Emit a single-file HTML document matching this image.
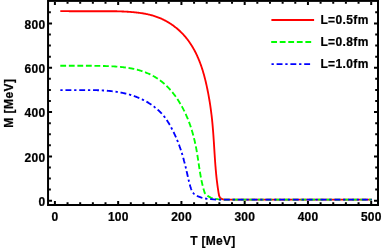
<!DOCTYPE html>
<html><head><meta charset="utf-8"><title>plot</title>
<style>html,body{margin:0;padding:0;background:#fff;}svg{display:block;will-change:transform;}text{font-family:"Liberation Sans",sans-serif;font-weight:bold;font-size:12px;fill:#000;stroke:#000;stroke-width:0.22px;}</style></head><body>
<svg width="383" height="249" viewBox="0 0 383 249">
<rect width="383" height="249" fill="#fff"/>
<path d="M60.29,11.10 L61.04,11.10 L61.79,11.10 L62.54,11.11 L63.29,11.13 L64.04,11.14 L64.78,11.15 L65.53,11.16 L66.28,11.18 L67.02,11.18 L67.77,11.19 L68.52,11.20 L69.26,11.21 L70.01,11.21 L70.75,11.22 L71.50,11.22 L72.24,11.22 L72.99,11.23 L73.73,11.23 L74.48,11.23 L75.22,11.23 L75.97,11.23 L76.71,11.23 L77.45,11.23 L78.20,11.23 L78.94,11.23 L79.68,11.23 L80.43,11.23 L81.17,11.23 L81.91,11.23 L82.65,11.23 L83.40,11.23 L84.14,11.23 L84.88,11.23 L85.62,11.23 L86.37,11.23 L87.11,11.23 L87.85,11.23 L88.59,11.23 L89.33,11.23 L90.08,11.23 L90.82,11.23 L91.56,11.23 L92.30,11.23 L93.04,11.23 L93.79,11.23 L94.53,11.23 L95.27,11.23 L96.01,11.23 L96.75,11.23 L97.49,11.23 L98.24,11.23 L98.98,11.23 L99.72,11.23 L100.46,11.23 L101.20,11.23 L101.95,11.23 L102.69,11.23 L103.43,11.23 L104.17,11.23 L104.92,11.23 L105.66,11.23 L106.40,11.23 L107.14,11.23 L107.89,11.23 L108.63,11.23 L109.37,11.23 L110.12,11.23 L110.86,11.23 L111.60,11.23 L112.35,11.23 L113.09,11.23 L113.83,11.23 L114.58,11.23 L115.32,11.24 L116.07,11.26 L116.81,11.28 L117.56,11.30 L118.30,11.32 L119.05,11.35 L119.79,11.38 L120.54,11.40 L121.29,11.43 L122.03,11.46 L122.78,11.50 L123.53,11.53 L124.27,11.57 L125.02,11.61 L125.77,11.65 L126.52,11.69 L127.26,11.73 L128.01,11.78 L128.76,11.83 L129.51,11.88 L130.26,11.93 L131.01,11.99 L131.75,12.05 L132.50,12.11 L133.25,12.18 L133.99,12.24 L134.74,12.32 L135.48,12.39 L136.23,12.47 L136.97,12.56 L137.72,12.64 L138.46,12.74 L139.20,12.83 L139.94,12.93 L140.68,13.04 L141.42,13.15 L142.15,13.26 L142.89,13.38 L143.62,13.51 L144.36,13.64 L145.09,13.77 L145.82,13.91 L146.54,14.06 L147.27,14.21 L147.99,14.37 L148.72,14.54 L149.44,14.71 L150.16,14.88 L150.87,15.07 L151.59,15.26 L152.30,15.46 L153.01,15.66 L153.71,15.87 L154.42,16.09 L155.12,16.32 L155.82,16.55 L156.52,16.79 L157.21,17.04 L157.91,17.30 L158.60,17.56 L159.28,17.83 L159.96,18.11 L160.64,18.40 L161.32,18.70 L162.00,19.01 L162.67,19.32 L163.33,19.64 L164.00,19.97 L164.66,20.31 L165.31,20.65 L165.97,21.00 L166.62,21.36 L167.26,21.73 L167.90,22.10 L168.54,22.49 L169.17,22.87 L169.80,23.27 L170.43,23.67 L171.05,24.08 L171.67,24.50 L172.28,24.92 L172.89,25.35 L173.49,25.79 L174.09,26.24 L174.68,26.69 L175.27,27.14 L175.85,27.61 L176.43,28.08 L177.01,28.55 L177.58,29.04 L178.14,29.52 L178.70,30.02 L179.25,30.52 L179.80,31.03 L180.34,31.54 L180.88,32.06 L181.41,32.58 L181.94,33.11 L182.46,33.65 L182.97,34.19 L183.48,34.73 L183.98,35.28 L184.48,35.84 L184.97,36.40 L185.45,36.97 L185.93,37.54 L186.40,38.12 L186.86,38.70 L187.32,39.28 L187.77,39.88 L188.22,40.47 L188.66,41.07 L189.09,41.68 L189.52,42.29 L189.94,42.90 L190.36,43.52 L190.77,44.14 L191.17,44.76 L191.57,45.39 L191.96,46.02 L192.35,46.66 L192.73,47.30 L193.10,47.94 L193.47,48.59 L193.84,49.24 L194.20,49.90 L194.55,50.55 L194.90,51.21 L195.24,51.87 L195.58,52.54 L195.91,53.21 L196.24,53.88 L196.56,54.55 L196.88,55.23 L197.19,55.90 L197.50,56.58 L197.80,57.27 L198.10,57.95 L198.39,58.64 L198.68,59.33 L198.97,60.02 L199.24,60.71 L199.52,61.40 L199.79,62.10 L200.05,62.79 L200.32,63.49 L200.57,64.19 L200.82,64.89 L201.07,65.59 L201.32,66.29 L201.56,67.00 L201.79,67.70 L202.02,68.41 L202.25,69.12 L202.48,69.83 L202.70,70.54 L202.92,71.25 L203.13,71.96 L203.34,72.67 L203.55,73.39 L203.75,74.10 L203.95,74.82 L204.15,75.53 L204.34,76.25 L204.53,76.97 L204.72,77.69 L204.91,78.41 L205.09,79.13 L205.27,79.85 L205.44,80.57 L205.62,81.29 L205.79,82.02 L205.96,82.74 L206.13,83.47 L206.29,84.19 L206.45,84.92 L206.61,85.64 L206.77,86.37 L206.93,87.10 L207.08,87.83 L207.24,88.55 L207.39,89.28 L207.54,90.01 L207.68,90.74 L207.83,91.47 L207.97,92.20 L208.11,92.93 L208.25,93.66 L208.39,94.39 L208.53,95.12 L208.66,95.86 L208.79,96.59 L208.92,97.32 L209.05,98.05 L209.18,98.79 L209.30,99.52 L209.43,100.26 L209.55,100.99 L209.67,101.72 L209.79,102.46 L209.90,103.20 L210.02,103.93 L210.13,104.67 L210.24,105.40 L210.35,106.14 L210.46,106.88 L210.56,107.61 L210.67,108.35 L210.77,109.09 L210.87,109.82 L210.97,110.56 L211.07,111.30 L211.16,112.04 L211.26,112.78 L211.35,113.52 L211.44,114.26 L211.53,114.99 L211.62,115.73 L211.70,116.47 L211.78,117.21 L211.87,117.95 L211.95,118.69 L212.03,119.43 L212.10,120.17 L212.18,120.91 L212.25,121.65 L212.33,122.40 L212.40,123.14 L212.47,123.88 L212.54,124.62 L212.61,125.36 L212.67,126.10 L212.74,126.84 L212.80,127.58 L212.86,128.33 L212.92,129.07 L212.98,129.81 L213.04,130.55 L213.10,131.29 L213.16,132.04 L213.21,132.78 L213.27,133.52 L213.32,134.26 L213.38,135.01 L213.43,135.75 L213.48,136.49 L213.53,137.23 L213.58,137.98 L213.63,138.72 L213.68,139.46 L213.73,140.21 L213.78,140.95 L213.83,141.69 L213.88,142.43 L213.93,143.18 L213.97,143.92 L214.02,144.66 L214.07,145.41 L214.11,146.15 L214.16,146.89 L214.21,147.63 L214.25,148.38 L214.30,149.12 L214.35,149.86 L214.39,150.61 L214.44,151.35 L214.49,152.09 L214.53,152.84 L214.58,153.58 L214.63,154.32 L214.68,155.06 L214.73,155.81 L214.77,156.55 L214.82,157.29 L214.87,158.03 L214.92,158.78 L214.98,159.52 L215.03,160.26 L215.08,161.00 L215.13,161.75 L215.19,162.49 L215.24,163.23 L215.30,163.97 L215.35,164.71 L215.41,165.45 L215.47,166.20 L215.53,166.94 L215.59,167.68 L215.65,168.42 L215.71,169.16 L215.78,169.90 L215.84,170.64 L215.91,171.38 L215.98,172.12 L216.05,172.86 L216.12,173.60 L216.19,174.34 L216.26,175.08 L216.34,175.82 L216.41,176.56 L216.49,177.30 L216.57,178.04 L216.65,178.78 L216.74,179.52 L216.82,180.26 L216.91,181.00 L217.00,181.73 L217.09,182.47 L217.18,183.21 L217.28,183.95 L217.37,184.69 L217.47,185.42 L217.57,186.16 L217.68,186.90 L217.78,187.63 L217.89,188.37 L218.00,189.10 L218.11,189.84 L218.23,190.58 L218.34,191.31 L218.46,192.05 L218.58,192.78 L218.71,193.52 L218.84,194.25 L218.97,194.98 L219.10,195.72 L220.10,197.80 L221.70,199.00 L224.00,199.60 L371.70,199.60" fill="none" stroke="#ff0000" stroke-width="1.85"/>
<path d="M60.30,65.75 L60.87,65.75 L61.44,65.75 L62.01,65.75 L62.58,65.75 L63.15,65.75 L63.71,65.75 L64.28,65.75 L64.85,65.75 L65.42,65.75 L65.99,65.75 L66.56,65.75 L67.13,65.75 L67.70,65.75 L68.26,65.75 L68.83,65.75 L69.40,65.75 L69.97,65.75 L70.54,65.75 L71.11,65.75 L71.68,65.75 L72.24,65.75 L72.81,65.75 L73.38,65.75 L73.95,65.75 L74.52,65.75 L75.08,65.75 L75.65,65.75 L76.22,65.75 L76.79,65.75 L77.36,65.75 L77.92,65.75 L78.49,65.75 L79.06,65.75 L79.63,65.75 L80.20,65.75 L80.76,65.75 L81.33,65.75 L81.90,65.75 L82.47,65.75 L83.04,65.75 L83.60,65.75 L84.17,65.75 L84.74,65.75 L85.31,65.75 L85.87,65.75 L86.44,65.75 L87.01,65.75 L87.58,65.75 L88.15,65.75 L88.71,65.75 L89.28,65.75 L89.85,65.75 L90.42,65.75 L90.98,65.76 L91.55,65.76 L92.12,65.77 L92.69,65.78 L93.26,65.78 L93.82,65.79 L94.39,65.80 L94.96,65.81 L95.53,65.81 L96.09,65.82 L96.66,65.83 L97.23,65.84 L97.80,65.85 L98.37,65.86 L98.93,65.87 L99.50,65.88 L100.07,65.90 L100.64,65.91 L101.21,65.92 L101.78,65.93 L102.34,65.95 L102.91,65.96 L103.48,65.98 L104.05,65.99 L104.62,66.01 L105.18,66.03 L105.75,66.05 L106.32,66.06 L106.89,66.08 L107.46,66.11 L108.02,66.13 L108.59,66.15 L109.16,66.17 L109.73,66.20 L110.30,66.23 L110.86,66.25 L111.43,66.28 L112.00,66.31 L112.57,66.35 L113.14,66.38 L113.70,66.41 L114.27,66.45 L114.84,66.49 L115.41,66.52 L115.97,66.56 L116.54,66.61 L117.11,66.65 L117.67,66.70 L118.24,66.74 L118.81,66.79 L119.37,66.84 L119.94,66.90 L120.51,66.95 L121.07,67.01 L121.64,67.07 L122.21,67.13 L122.77,67.19 L123.34,67.25 L123.90,67.32 L124.47,67.39 L125.03,67.46 L125.60,67.53 L126.16,67.61 L126.73,67.69 L127.29,67.77 L127.86,67.85 L128.42,67.94 L128.98,68.03 L129.55,68.12 L130.11,68.22 L130.67,68.31 L131.23,68.42 L131.79,68.52 L132.35,68.63 L132.91,68.74 L133.47,68.85 L134.03,68.97 L134.58,69.09 L135.14,69.22 L135.69,69.35 L136.25,69.48 L136.80,69.62 L137.35,69.76 L137.90,69.91 L138.45,70.06 L139.00,70.21 L139.55,70.37 L140.09,70.53 L140.64,70.70 L141.18,70.87 L141.72,71.04 L142.26,71.22 L142.80,71.41 L143.33,71.59 L143.87,71.79 L144.40,71.98 L144.93,72.18 L145.46,72.39 L145.99,72.60 L146.51,72.81 L147.04,73.03 L147.56,73.25 L148.08,73.48 L148.60,73.71 L149.11,73.94 L149.63,74.18 L150.14,74.43 L150.65,74.67 L151.16,74.93 L151.66,75.18 L152.16,75.44 L152.66,75.71 L153.16,75.98 L153.66,76.25 L154.15,76.53 L154.64,76.81 L155.13,77.10 L155.61,77.39 L156.09,77.69 L156.57,77.99 L157.05,78.30 L157.52,78.61 L157.99,78.92 L158.46,79.24 L158.93,79.56 L159.39,79.89 L159.85,80.22 L160.30,80.56 L160.76,80.90 L161.20,81.24 L161.65,81.59 L162.09,81.94 L162.53,82.30 L162.97,82.66 L163.40,83.03 L163.83,83.40 L164.26,83.77 L164.69,84.15 L165.11,84.53 L165.52,84.91 L165.94,85.30 L166.35,85.70 L166.76,86.09 L167.16,86.49 L167.56,86.89 L167.96,87.30 L168.35,87.71 L168.75,88.12 L169.14,88.54 L169.52,88.95 L169.90,89.38 L170.28,89.80 L170.66,90.23 L171.03,90.66 L171.40,91.09 L171.77,91.53 L172.13,91.97 L172.49,92.41 L172.85,92.85 L173.21,93.30 L173.56,93.75 L173.91,94.20 L174.25,94.66 L174.60,95.11 L174.94,95.57 L175.27,96.03 L175.61,96.50 L175.94,96.96 L176.27,97.43 L176.59,97.90 L176.91,98.37 L177.23,98.84 L177.55,99.32 L177.86,99.79 L178.18,100.27 L178.48,100.75 L178.79,101.24 L179.09,101.72 L179.39,102.20 L179.69,102.69 L179.98,103.18 L180.27,103.67 L180.56,104.16 L180.85,104.65 L181.13,105.14 L181.41,105.64 L181.69,106.13 L181.96,106.63 L182.24,107.13 L182.51,107.63 L182.77,108.13 L183.04,108.63 L183.30,109.13 L183.56,109.64 L183.81,110.15 L184.07,110.65 L184.32,111.16 L184.57,111.67 L184.82,112.18 L185.06,112.69 L185.30,113.21 L185.54,113.72 L185.78,114.23 L186.01,114.75 L186.24,115.27 L186.47,115.79 L186.70,116.31 L186.92,116.83 L187.14,117.35 L187.36,117.87 L187.58,118.39 L187.79,118.92 L188.00,119.44 L188.21,119.97 L188.42,120.50 L188.63,121.03 L188.83,121.56 L189.03,122.09 L189.23,122.62 L189.42,123.15 L189.62,123.68 L189.81,124.22 L190.00,124.75 L190.19,125.29 L190.37,125.82 L190.55,126.36 L190.73,126.90 L190.91,127.44 L191.09,127.98 L191.26,128.52 L191.43,129.06 L191.60,129.60 L191.77,130.14 L191.94,130.69 L192.10,131.23 L192.26,131.77 L192.42,132.32 L192.58,132.87 L192.73,133.41 L192.89,133.96 L193.04,134.51 L193.19,135.06 L193.34,135.61 L193.48,136.16 L193.63,136.71 L193.77,137.26 L193.91,137.81 L194.04,138.36 L194.18,138.91 L194.31,139.47 L194.45,140.02 L194.58,140.57 L194.71,141.13 L194.83,141.68 L194.96,142.24 L195.08,142.79 L195.20,143.35 L195.32,143.91 L195.44,144.46 L195.56,145.02 L195.67,145.58 L195.78,146.14 L195.89,146.69 L196.00,147.25 L196.11,147.81 L196.22,148.37 L196.32,148.93 L196.43,149.49 L196.53,150.05 L196.63,150.61 L196.72,151.17 L196.82,151.73 L196.92,152.29 L197.01,152.86 L197.10,153.42 L197.20,153.98 L197.29,154.54 L197.38,155.10 L197.47,155.67 L197.56,156.23 L197.64,156.79 L197.73,157.35 L197.82,157.92 L197.90,158.48 L197.99,159.04 L198.07,159.60 L198.16,160.17 L198.24,160.73 L198.32,161.29 L198.41,161.85 L198.49,162.42 L198.57,162.98 L198.66,163.54 L198.74,164.11 L198.82,164.67 L198.91,165.23 L198.99,165.79 L199.07,166.36 L199.16,166.92 L199.24,167.48 L199.33,168.04 L199.42,168.60 L199.50,169.16 L199.59,169.73 L199.68,170.29 L199.77,170.85 L199.86,171.41 L199.95,171.97 L200.04,172.53 L200.13,173.09 L200.23,173.65 L200.32,174.21 L200.42,174.77 L200.52,175.32 L200.61,175.88 L200.71,176.44 L200.82,177.00 L200.92,177.56 L201.03,178.11 L201.13,178.67 L201.24,179.22 L201.35,179.78 L201.47,180.34 L201.58,180.89 L201.70,181.44 L201.82,182.00 L201.94,182.55 L202.06,183.10 L202.19,183.66 L202.31,184.21 L202.44,184.76 L202.58,185.31 L202.71,185.86 L202.85,186.41 L202.99,186.96 L203.13,187.51 L203.28,188.05 L203.43,188.60 L203.58,189.15 L203.74,189.69 L203.90,190.24 L204.06,190.78 L204.22,191.33 L204.39,191.87 L204.56,192.41 L204.73,192.95 L207.70,195.90 L211.00,197.80 L214.50,198.70 L218.00,199.20 L222.00,199.60 L371.70,199.60" fill="none" stroke="#00ff00" stroke-width="1.85" stroke-dasharray="5.82 2.72"/>
<path d="M60.35,90.11 L60.82,90.12 L61.30,90.12 L61.78,90.13 L62.26,90.14 L62.73,90.14 L63.21,90.15 L63.69,90.15 L64.17,90.16 L64.65,90.16 L65.14,90.16 L65.62,90.16 L66.10,90.17 L66.58,90.17 L67.07,90.17 L67.55,90.17 L68.03,90.17 L68.52,90.17 L69.00,90.17 L69.49,90.17 L69.97,90.17 L70.46,90.17 L70.95,90.17 L71.43,90.17 L71.92,90.17 L72.41,90.17 L72.89,90.17 L73.38,90.17 L73.87,90.17 L74.36,90.17 L74.85,90.17 L75.34,90.17 L75.83,90.17 L76.32,90.17 L76.81,90.17 L77.30,90.17 L77.79,90.17 L78.28,90.17 L78.77,90.17 L79.26,90.17 L79.75,90.17 L80.24,90.17 L80.74,90.17 L81.23,90.17 L81.72,90.17 L82.21,90.17 L82.70,90.17 L83.20,90.17 L83.69,90.17 L84.18,90.17 L84.68,90.17 L85.17,90.17 L85.66,90.17 L86.16,90.17 L86.65,90.17 L87.14,90.17 L87.64,90.17 L88.13,90.17 L88.62,90.17 L89.12,90.17 L89.61,90.17 L90.11,90.17 L90.60,90.17 L91.09,90.17 L91.59,90.17 L92.08,90.17 L92.57,90.17 L93.07,90.17 L93.56,90.17 L94.06,90.17 L94.55,90.17 L95.04,90.17 L95.54,90.17 L96.03,90.17 L96.52,90.18 L97.02,90.20 L97.51,90.21 L98.00,90.23 L98.50,90.25 L98.99,90.27 L99.48,90.29 L99.97,90.31 L100.47,90.33 L100.96,90.35 L101.45,90.38 L101.94,90.40 L102.43,90.43 L102.93,90.46 L103.42,90.49 L103.91,90.52 L104.40,90.55 L104.89,90.58 L105.38,90.62 L105.87,90.65 L106.36,90.69 L106.85,90.73 L107.34,90.77 L107.83,90.81 L108.32,90.85 L108.80,90.90 L109.29,90.95 L109.78,90.99 L110.27,91.04 L110.75,91.09 L111.24,91.15 L111.73,91.20 L112.21,91.26 L112.70,91.31 L113.18,91.37 L113.67,91.43 L114.15,91.50 L114.64,91.56 L115.12,91.63 L115.60,91.70 L116.09,91.77 L116.57,91.84 L117.05,91.91 L117.53,91.99 L118.01,92.07 L118.49,92.15 L118.97,92.23 L119.45,92.31 L119.93,92.40 L120.41,92.48 L120.89,92.57 L121.37,92.67 L121.84,92.76 L122.32,92.86 L122.79,92.96 L123.27,93.06 L123.74,93.16 L124.22,93.27 L124.69,93.37 L125.16,93.48 L125.64,93.60 L126.11,93.71 L126.58,93.83 L127.05,93.95 L127.52,94.07 L127.99,94.19 L128.46,94.32 L128.92,94.45 L129.39,94.58 L129.86,94.72 L130.32,94.85 L130.79,94.99 L131.25,95.14 L131.71,95.28 L132.18,95.43 L132.64,95.58 L133.10,95.73 L133.56,95.89 L134.02,96.05 L134.48,96.21 L134.94,96.37 L135.40,96.54 L135.85,96.71 L136.31,96.88 L136.76,97.06 L137.22,97.24 L137.67,97.42 L138.12,97.60 L138.57,97.79 L139.02,97.98 L139.47,98.17 L139.92,98.37 L140.37,98.57 L140.82,98.77 L141.26,98.98 L141.71,99.18 L142.15,99.40 L142.59,99.61 L143.03,99.83 L143.47,100.05 L143.91,100.27 L144.34,100.50 L144.78,100.72 L145.21,100.96 L145.64,101.19 L146.07,101.43 L146.50,101.67 L146.93,101.91 L147.35,102.16 L147.78,102.41 L148.20,102.66 L148.62,102.92 L149.04,103.18 L149.45,103.44 L149.87,103.70 L150.28,103.97 L150.69,104.24 L151.10,104.52 L151.50,104.79 L151.91,105.07 L152.31,105.36 L152.71,105.64 L153.10,105.93 L153.50,106.22 L153.89,106.52 L154.28,106.81 L154.67,107.11 L155.05,107.42 L155.44,107.72 L155.82,108.03 L156.20,108.35 L156.57,108.66 L156.94,108.98 L157.31,109.30 L157.68,109.62 L158.04,109.95 L158.40,110.28 L158.76,110.62 L159.12,110.95 L159.47,111.29 L159.82,111.63 L160.17,111.98 L160.51,112.33 L160.85,112.68 L161.19,113.03 L161.52,113.39 L161.85,113.75 L162.18,114.11 L162.51,114.48 L162.83,114.85 L163.15,115.22 L163.46,115.59 L163.77,115.97 L164.08,116.35 L164.38,116.74 L164.68,117.12 L164.98,117.51 L165.27,117.91 L165.56,118.30 L165.85,118.70 L166.13,119.10 L166.41,119.50 L166.69,119.91 L166.96,120.32 L167.23,120.73 L167.50,121.14 L167.76,121.56 L168.03,121.97 L168.29,122.39 L168.54,122.81 L168.80,123.23 L169.05,123.65 L169.30,124.08 L169.54,124.51 L169.79,124.93 L170.03,125.36 L170.27,125.79 L170.51,126.22 L170.75,126.65 L170.98,127.09 L171.21,127.52 L171.44,127.95 L171.67,128.39 L171.90,128.82 L172.12,129.26 L172.35,129.70 L172.57,130.13 L172.79,130.57 L173.01,131.01 L173.23,131.45 L173.44,131.88 L173.66,132.32 L173.87,132.76 L174.08,133.20 L174.29,133.64 L174.50,134.08 L174.71,134.52 L174.91,134.97 L175.11,135.41 L175.32,135.85 L175.52,136.29 L175.72,136.74 L175.91,137.18 L176.11,137.63 L176.30,138.07 L176.49,138.52 L176.69,138.97 L176.88,139.42 L177.06,139.86 L177.25,140.31 L177.43,140.76 L177.62,141.21 L177.80,141.66 L177.98,142.11 L178.16,142.57 L178.34,143.02 L178.51,143.47 L178.69,143.93 L178.86,144.38 L179.03,144.84 L179.20,145.29 L179.37,145.75 L179.53,146.21 L179.70,146.66 L179.86,147.12 L180.02,147.58 L180.18,148.04 L180.34,148.50 L180.50,148.97 L180.66,149.43 L180.81,149.89 L180.97,150.36 L181.12,150.82 L181.27,151.29 L181.42,151.75 L181.57,152.22 L181.71,152.69 L181.86,153.15 L182.00,153.62 L182.14,154.09 L182.29,154.56 L182.43,155.03 L182.57,155.50 L182.70,155.97 L182.84,156.44 L182.98,156.91 L183.11,157.38 L183.24,157.86 L183.38,158.33 L183.51,158.80 L183.64,159.27 L183.77,159.75 L183.90,160.22 L184.02,160.70 L184.15,161.17 L184.27,161.65 L184.40,162.12 L184.52,162.60 L184.64,163.07 L184.76,163.55 L184.89,164.02 L185.01,164.50 L185.12,164.98 L185.24,165.45 L185.36,165.93 L185.48,166.40 L185.59,166.88 L185.71,167.36 L185.82,167.83 L185.93,168.31 L186.05,168.79 L186.16,169.27 L186.27,169.74 L186.38,170.22 L186.49,170.70 L186.60,171.17 L186.71,171.65 L186.82,172.13 L186.93,172.60 L187.04,173.08 L187.15,173.56 L187.25,174.03 L187.36,174.51 L187.47,174.98 L187.58,175.46 L187.69,175.94 L187.80,176.41 L187.91,176.89 L188.02,177.36 L188.13,177.84 L188.25,178.32 L188.36,178.79 L188.47,179.27 L188.58,179.74 L188.70,180.22 L188.82,180.69 L188.93,181.17 L189.05,181.64 L189.17,182.11 L189.29,182.59 L189.41,183.06 L189.53,183.54 L189.66,184.01 L189.78,184.48 L189.91,184.95 L190.04,185.43 L190.17,185.90 L190.31,186.37 L190.44,186.84 L190.59,187.31 L190.74,187.77 L190.89,188.23 L191.06,188.69 L191.23,189.15 L191.41,189.60 L191.60,190.04 L191.80,190.48 L192.02,190.92 L192.24,191.34 L192.48,191.77 L192.73,192.18 L193.00,192.59 L193.29,192.99 L193.59,193.38 L193.91,193.76 L194.25,194.13 L198.10,196.50 L201.50,197.60 L204.50,198.40 L208.00,198.90 L211.00,199.20 L216.00,199.60 L371.70,199.60" fill="none" stroke="#0000ff" stroke-width="1.85" stroke-dasharray="2.3 2.8 5.9 2.8"/>
<rect x="48.05" y="0.9" width="329.95" height="204.1" fill="none" stroke="#000" stroke-width="2.0"/>
<path d="M54.90,204.0 v-3.0 M54.90,1.9 v3.0 M67.55,204.0 v-1.8 M67.55,1.9 v1.8 M80.20,204.0 v-1.8 M80.20,1.9 v1.8 M92.86,204.0 v-1.8 M92.86,1.9 v1.8 M105.51,204.0 v-1.8 M105.51,1.9 v1.8 M118.16,204.0 v-3.0 M118.16,1.9 v3.0 M130.81,204.0 v-1.8 M130.81,1.9 v1.8 M143.46,204.0 v-1.8 M143.46,1.9 v1.8 M156.12,204.0 v-1.8 M156.12,1.9 v1.8 M168.77,204.0 v-1.8 M168.77,1.9 v1.8 M181.42,204.0 v-3.0 M181.42,1.9 v3.0 M194.07,204.0 v-1.8 M194.07,1.9 v1.8 M206.72,204.0 v-1.8 M206.72,1.9 v1.8 M219.38,204.0 v-1.8 M219.38,1.9 v1.8 M232.03,204.0 v-1.8 M232.03,1.9 v1.8 M244.68,204.0 v-3.0 M244.68,1.9 v3.0 M257.33,204.0 v-1.8 M257.33,1.9 v1.8 M269.98,204.0 v-1.8 M269.98,1.9 v1.8 M282.64,204.0 v-1.8 M282.64,1.9 v1.8 M295.29,204.0 v-1.8 M295.29,1.9 v1.8 M307.94,204.0 v-3.0 M307.94,1.9 v3.0 M320.59,204.0 v-1.8 M320.59,1.9 v1.8 M333.24,204.0 v-1.8 M333.24,1.9 v1.8 M345.90,204.0 v-1.8 M345.90,1.9 v1.8 M358.55,204.0 v-1.8 M358.55,1.9 v1.8 M371.20,204.0 v-3.0 M371.20,1.9 v3.0 M49.05,200.70 h3.0 M377.0,200.70 h-3.0 M49.05,189.62 h1.8 M377.0,189.62 h-1.8 M49.05,178.54 h1.8 M377.0,178.54 h-1.8 M49.05,167.46 h1.8 M377.0,167.46 h-1.8 M49.05,156.38 h3.0 M377.0,156.38 h-3.0 M49.05,145.30 h1.8 M377.0,145.30 h-1.8 M49.05,134.22 h1.8 M377.0,134.22 h-1.8 M49.05,123.14 h1.8 M377.0,123.14 h-1.8 M49.05,112.06 h3.0 M377.0,112.06 h-3.0 M49.05,100.98 h1.8 M377.0,100.98 h-1.8 M49.05,89.90 h1.8 M377.0,89.90 h-1.8 M49.05,78.82 h1.8 M377.0,78.82 h-1.8 M49.05,67.74 h3.0 M377.0,67.74 h-3.0 M49.05,56.66 h1.8 M377.0,56.66 h-1.8 M49.05,45.58 h1.8 M377.0,45.58 h-1.8 M49.05,34.50 h1.8 M377.0,34.50 h-1.8 M49.05,23.42 h3.0 M377.0,23.42 h-3.0 M49.05,12.34 h1.8 M377.0,12.34 h-1.8" fill="none" stroke="#000" stroke-width="2.0"/>
<text x="55.00" y="221.4" text-anchor="middle" font-size="12.3" letter-spacing="0.15">0</text>
<text x="118.26" y="221.4" text-anchor="middle" font-size="12.3" letter-spacing="0.15">100</text>
<text x="181.52" y="221.4" text-anchor="middle" font-size="12.3" letter-spacing="0.15">200</text>
<text x="244.78" y="221.4" text-anchor="middle" font-size="12.3" letter-spacing="0.15">300</text>
<text x="308.04" y="221.4" text-anchor="middle" font-size="12.3" letter-spacing="0.15">400</text>
<text x="371.30" y="221.4" text-anchor="middle" font-size="12.3" letter-spacing="0.15">500</text>
<text x="45.7" y="206.00" text-anchor="end" font-size="12.4" letter-spacing="0.4">0</text>
<text x="45.7" y="161.68" text-anchor="end" font-size="12.4" letter-spacing="0.4">200</text>
<text x="45.7" y="117.36" text-anchor="end" font-size="12.4" letter-spacing="0.4">400</text>
<text x="45.7" y="73.04" text-anchor="end" font-size="12.4" letter-spacing="0.4">600</text>
<text x="45.7" y="28.72" text-anchor="end" font-size="12.4" letter-spacing="0.4">800</text>
<text x="212.9" y="244.7" text-anchor="middle" letter-spacing="0.25">T [MeV]</text>
<text transform="translate(13.1,103.1) rotate(-90)" text-anchor="middle" letter-spacing="0.45">M [MeV]</text>
<path d="M271.4,20.0 H314.1" stroke="#ff0000" stroke-width="1.85" fill="none"/>
<path d="M271.2,42.0 H311.9" stroke="#00ff00" stroke-width="1.85" fill="none" stroke-dasharray="5.82 2.72"/>
<path d="M271.5,64.05 H311.6" stroke="#0000ff" stroke-width="1.85" fill="none" stroke-dasharray="2.3 2.8 5.9 2.8"/>
<text x="320.4" y="23.70" letter-spacing="0.38">L=0.5fm</text>
<text x="320.4" y="45.60" letter-spacing="0.38">L=0.8fm</text>
<text x="320.4" y="67.50" letter-spacing="0.38">L=1.0fm</text>
</svg></body></html>
